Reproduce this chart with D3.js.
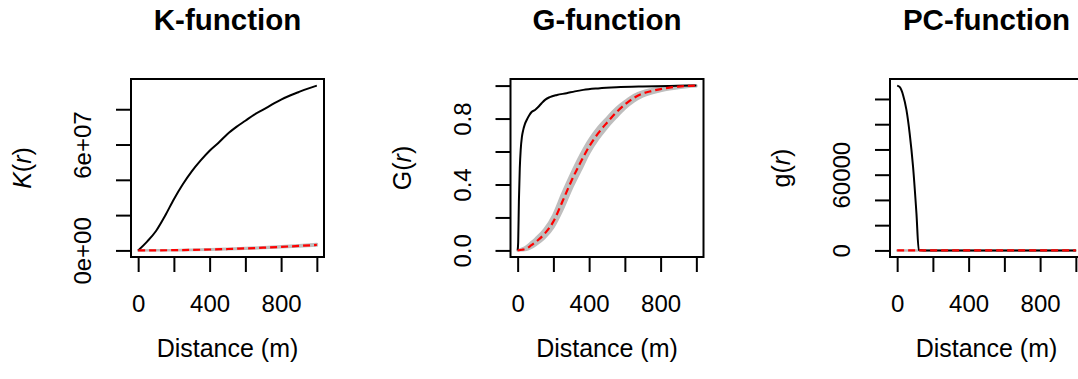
<!DOCTYPE html>
<html>
<head>
<meta charset="utf-8">
<script src="https://cdn.jsdelivr.net/npm/d3@7"></script>
<style>
  body { margin: 0; background: #fff; }
  svg { display: block; }
  text { font-family: "Liberation Sans", Arial, Helvetica, sans-serif; fill: #000; }
</style>
</head>
<body>
<svg id="chart" width="1078" height="379"></svg>
<script>
// ---- Shared distance axis ----
const xTicks = [0, 200, 400, 600, 800, 1000];
const xTickLabels = ["0", "", "400", "", "800", ""];
const xTitle = "Distance (m)";

// ---- K-function (Ripley's K) ----
const kObsR = [0, 50, 100, 150, 200, 250, 300, 350, 400, 450, 500, 550, 600, 650, 700, 750, 800, 850, 900, 950, 1000];
const kObs  = [0, 0.5e7, 1.1e7, 1.95e7, 2.9e7, 3.75e7, 4.48e7, 5.1e7, 5.65e7, 6.1e7, 6.6e7, 7.0e7, 7.35e7, 7.7e7, 7.98e7, 8.27e7, 8.55e7, 8.78e7, 8.98e7, 9.17e7, 9.34e7];
const kTheoR = [0, 100, 200, 300, 400, 500, 600, 700, 800, 900, 1000];
const kTheo  = [0, 3.1e4, 1.26e5, 2.83e5, 5.03e5, 7.85e5, 1.13e6, 1.54e6, 2.01e6, 2.54e6, 3.14e6];
const kLo    = [0, 2.4e4, 1.0e5, 2.3e5, 4.1e5, 6.5e5, 0.95e6, 1.3e6, 1.72e6, 2.2e6, 2.75e6];
const kHi    = [0, 3.9e4, 1.55e5, 3.45e5, 6.1e5, 9.4e5, 1.34e6, 1.8e6, 2.33e6, 2.92e6, 3.58e6];
const kYTicks = [0, 2e7, 4e7, 6e7, 8e7];
const kYTickLabels = ["0e+00", "", "", "6e+07", ""];

// ---- G-function (nearest-neighbour distances) ----
const gObsR = [0, 3, 7, 12, 17, 24, 31, 40, 50, 65, 78, 97, 115, 134, 155, 180, 220, 274, 320, 367, 450, 553, 700, 850, 1000];
const gObs  = [0, 0.05, 0.3, 0.5, 0.61, 0.69, 0.73, 0.765, 0.79, 0.82, 0.84, 0.852, 0.87, 0.893, 0.915, 0.93, 0.943, 0.954, 0.965, 0.974, 0.983, 0.99, 0.995, 0.998, 1.0];
const gTheoR = [0, 25, 50, 75, 100, 150, 200, 250, 300, 350, 400, 450, 500, 550, 600, 650, 700, 750, 800, 850, 900, 950, 1000];
const gTheo  = [0, 0.004, 0.012, 0.03, 0.05, 0.1, 0.175, 0.295, 0.42, 0.53, 0.63, 0.71, 0.775, 0.835, 0.885, 0.925, 0.952, 0.967, 0.979, 0.988, 0.994, 0.998, 1.0];
const gLo    = [0, 0.001, 0.004, 0.015, 0.032, 0.075, 0.14, 0.245, 0.37, 0.48, 0.59, 0.675, 0.745, 0.805, 0.86, 0.903, 0.934, 0.953, 0.967, 0.978, 0.986, 0.992, 0.996];
const gHi    = [0, 0.01, 0.025, 0.048, 0.072, 0.128, 0.215, 0.345, 0.465, 0.575, 0.67, 0.745, 0.805, 0.862, 0.905, 0.942, 0.965, 0.978, 0.988, 0.994, 0.998, 1.0, 1.0];
const gYTicks = [0, 0.2, 0.4, 0.6, 0.8, 1.0];
const gYTickLabels = ["0.0", "", "0.4", "", "0.8", ""];

// ---- Pair-correlation function ----
const pcObsR = [0, 15, 33, 52, 70, 89, 108, 121, 150, 200, 300, 400, 500, 600, 700, 800, 900, 1000];
const pcObs  = [130600, 129300, 123200, 111300, 92800, 66300, 29300, 300, 4, 2.1, 1.4, 1.2, 1.1, 1.05, 1.0, 1.0, 0.98, 1.0];
const pcTheoR = [0, 1000];
const pcTheo  = [1, 1];
const pcEnvR = [0, 50, 100, 200, 400, 600, 800, 1000];
const pcLo   = [0, 0, 0.3, 0.6, 0.8, 0.85, 0.88, 0.9];
const pcHi   = [0, 12, 4, 1.8, 1.3, 1.2, 1.15, 1.12];
const pcYTicks = [0, 20000, 40000, 60000, 80000, 100000, 120000];
const pcYTickLabels = ["0", "", "", "60000", "", "", ""];

const zip = (xs, ys) => xs.map((r, i) => ({ r, v: ys[i] }));
const zip3 = (xs, lo, hi) => xs.map((r, i) => ({ r, lo: lo[i], hi: hi[i] }));

const panels = [
  { title: "K-function", yLab: [["K", true], ["(", false], ["r", true], [")", false]],
    obs: zip(kObsR, kObs), theo: zip(kTheoR, kTheo), env: zip3(kTheoR, kLo, kHi),
    yTicks: kYTicks, yTickLabels: kYTickLabels },
  { title: "G-function", yLab: [["G", false], ["(", false], ["r", true], [")", false]],
    obs: zip(gObsR, gObs), theo: zip(gTheoR, gTheo), env: zip3(gTheoR, gLo, gHi),
    yTicks: gYTicks, yTickLabels: gYTickLabels },
  { title: "PC-function", yLab: [["g", false], ["(", false], ["r", true], [")", false]],
    obs: zip(pcObsR, pcObs), theo: zip(pcTheoR, pcTheo), env: zip3(pcEnvR, pcLo, pcHi),
    yTicks: pcYTicks, yTickLabels: pcYTickLabels }
];

const svg = d3.select("#chart");
const boxW = 193, boxH = 178, boxTop = 79, firstLeft = 131, step = 379.5;
const tickLen = 15;

// R-style axis range: data extent widened by 4% on each side
function padded(ext) {
  const d = (ext[1] - ext[0]) * 0.04;
  return [ext[0] - d, ext[1] + d];
}

panels.forEach((p, i) => {
  const left = firstLeft + i * step;
  const g = svg.append("g");

  const allR = p.obs.map(d => d.r).concat(p.theo.map(d => d.r));
  const allV = p.obs.map(d => d.v).concat(p.theo.map(d => d.v), p.env.map(d => d.lo), p.env.map(d => d.hi));

  const x = d3.scaleLinear().domain(padded(d3.extent(allR))).range([left, left + boxW]);
  const y = d3.scaleLinear().domain(padded(d3.extent(allV))).range([boxTop + boxH, boxTop]);

  // simulation envelope
  g.append("path")
    .datum(p.env)
    .attr("d", d3.area().x(d => x(d.r)).y0(d => y(d.lo)).y1(d => y(d.hi)).curve(d3.curveMonotoneX))
    .attr("fill", "#bebebe")
    .attr("stroke", "#bebebe")
    .attr("stroke-width", 2.5)
    .attr("stroke-linejoin", "round");

  // observed function
  g.append("path")
    .datum(p.obs)
    .attr("d", d3.line().x(d => x(d.r)).y(d => y(d.v)).curve(d3.curveMonotoneX))
    .attr("fill", "none")
    .attr("stroke", "#000")
    .attr("stroke-width", 2);

  // theoretical (CSR) function
  g.append("path")
    .datum(p.theo)
    .attr("d", d3.line().x(d => x(d.r)).y(d => y(d.v)).curve(d3.curveMonotoneX))
    .attr("fill", "none")
    .attr("stroke", "#ff0000")
    .attr("stroke-width", 2.2)
    .attr("stroke-dasharray", "7,4");

  // frame
  g.append("rect")
    .attr("x", left).attr("y", boxTop)
    .attr("width", boxW).attr("height", boxH)
    .attr("fill", "none").attr("stroke", "#000").attr("stroke-width", 2);

  // x axis
  const xa = g.append("g")
    .attr("transform", `translate(0,${boxTop + boxH})`)
    .call(d3.axisBottom(x).tickValues(xTicks).tickSize(tickLen).tickSizeOuter(0)
      .tickFormat((d, k) => xTickLabels[k]));
  xa.select(".domain").remove();
  xa.selectAll(".tick line").attr("stroke", "#000").attr("stroke-width", 2);
  xa.selectAll(".tick text")
    .attr("y", 54.5).attr("dy", 0)
    .style("font-family", '"Liberation Sans", Arial, sans-serif')
    .style("font-size", "24px").attr("fill", "#000");

  // y axis with labels rotated parallel to the axis
  const ya = g.append("g")
    .attr("transform", `translate(${left},0)`)
    .call(d3.axisLeft(y).tickValues(p.yTicks).tickSize(tickLen).tickSizeOuter(0)
      .tickFormat((d, k) => p.yTickLabels[k]));
  ya.select(".domain").remove();
  ya.selectAll(".tick line").attr("stroke", "#000").attr("stroke-width", 2);
  ya.selectAll(".tick text")
    .attr("transform", "rotate(-90)")
    .attr("x", 0).attr("y", -40).attr("dy", 0)
    .attr("text-anchor", "middle")
    .style("font-family", '"Liberation Sans", Arial, sans-serif')
    .style("font-size", "24px").attr("fill", "#000");

  // panel title
  g.append("text")
    .attr("x", left + boxW / 2).attr("y", 29.5)
    .attr("text-anchor", "middle")
    .style("font-size", "29.5px").style("font-weight", "bold")
    .text(p.title);

  // x axis title
  g.append("text")
    .attr("x", left + boxW / 2).attr("y", 356.5)
    .attr("text-anchor", "middle")
    .style("font-size", "25px")
    .text(xTitle);

  // y axis title
  const yt = g.append("text")
    .attr("transform", `translate(${left - 100},${boxTop + boxH / 2}) rotate(-90)`)
    .attr("text-anchor", "middle")
    .style("font-size", "25px");
  p.yLab.forEach(([s, it]) => {
    yt.append("tspan").style("font-style", it ? "italic" : "normal").text(s);
  });
});
</script>
</body>
</html>
